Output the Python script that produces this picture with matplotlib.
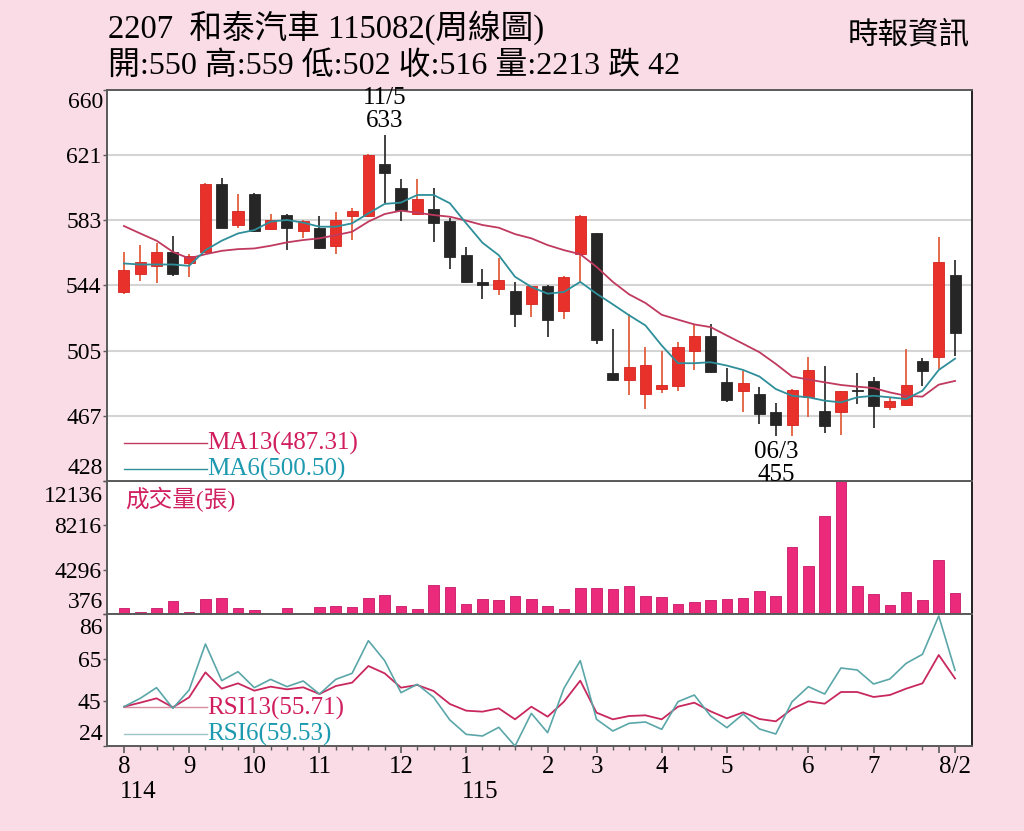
import matplotlib
matplotlib.use('Agg')
import matplotlib.pyplot as plt
import matplotlib.transforms as mtransforms
import numpy as np

# ---------------- data (weekly candles, 52 weeks) ----------------
opens = [540.0, 550.9, 555.3, 563.8, 556.9, 563.8, 604.1, 579.7, 598.1, 577.1,
         585.6, 576.1, 578.1, 567.2, 585.0, 585.0, 616.0, 601.9, 586.2, 589.0,
         582.1, 561.8, 545.8, 542.0, 540.6, 532.7, 543.6, 528.7, 562.8, 574.7,
         492.0, 488.1, 479.5, 482.5, 484.5, 505.3, 514.2, 486.5, 481.5, 479.5,
         468.7, 461.3, 477.6, 469.6, 468.7, 481.1, 487.1, 471.6, 473.2, 499.0,
         501.4, 550.0]
highs = [563.8, 567.8, 569.2, 573.2, 562.8, 604.5, 607.5, 598.1, 598.5, 586.0,
         586.0, 582.7, 585.0, 587.6, 589.6, 621.9, 633.0, 607.1, 607.1, 601.9,
         583.7, 566.8, 553.9, 559.9, 546.0, 543.8, 544.0, 549.4, 585.4, 575.1,
         518.2, 527.1, 507.7, 504.9, 510.3, 520.8, 521.2, 495.0, 493.0, 483.9,
         474.0, 482.3, 501.4, 496.0, 481.5, 492.0, 489.5, 477.6, 506.3, 501.0,
         572.8, 559.0]
lows = [539.0, 546.6, 545.6, 549.4, 548.6, 563.2, 577.7, 577.7, 575.7, 576.7,
        564.8, 571.8, 565.4, 562.8, 570.8, 584.6, 593.0, 582.1, 585.6, 569.8,
        553.9, 545.4, 536.1, 538.5, 519.2, 525.2, 513.3, 524.2, 546.0, 509.3,
        487.5, 479.2, 470.6, 479.9, 481.1, 493.8, 491.9, 474.6, 469.0, 461.7,
        454.8, 454.8, 465.7, 456.2, 455.0, 473.6, 459.7, 470.0, 472.6, 484.5,
        494.4, 502.0]
closes = [552.9, 557.5, 563.8, 550.9, 561.4, 604.1, 578.1, 588.0, 576.1, 582.7,
          578.1, 581.9, 565.8, 582.7, 588.0, 621.3, 610.5, 588.6, 595.0, 581.1,
          560.8, 545.8, 544.0, 547.4, 526.8, 543.6, 523.6, 548.6, 585.0, 511.7,
          487.9, 495.4, 496.8, 484.9, 507.3, 514.2, 492.8, 476.0, 486.1, 467.7,
          461.3, 481.9, 494.0, 460.3, 481.1, 481.1, 472.2, 475.2, 485.1, 493.0,
          557.5, 516.0]
ma13 = [579.1, 574.7, 570.4, 563.8, 559.9, 562.4, 564.4, 565.4, 565.8, 567.4,
        569.4, 570.8, 571.8, 573.7, 575.7, 581.7, 586.2, 588.2, 587.0, 585.6,
        584.6, 582.3, 579.7, 578.1, 574.3, 571.8, 567.8, 564.8, 562.4, 554.9,
        546.0, 538.6, 533.5, 526.5, 523.6, 520.8, 519.2, 514.2, 509.3, 504.3,
        497.4, 489.9, 488.1, 486.5, 484.9, 483.9, 483.1, 480.5, 478.5, 478.0,
        485.1, 487.31]
ma6 = [556.9, 556.3, 556.3, 556.3, 555.5, 564.8, 570.4, 574.7, 576.7, 581.7,
       582.7, 581.1, 578.7, 578.7, 580.7, 586.6, 592.2, 593.0, 597.5, 597.5,
       592.6, 580.7, 569.2, 561.8, 549.0, 543.0, 539.0, 540.0, 546.0, 539.0,
       532.7, 526.2, 520.2, 508.3, 497.8, 497.8, 498.4, 496.4, 493.8, 489.9,
       482.5, 478.5, 477.6, 475.6, 474.6, 477.6, 478.5, 477.6, 476.6, 481.5,
       493.8, 500.50]
volume = [884, 527, 911, 1561, 527, 1686, 1775, 884, 732, 376,
          937, 438, 973, 1062, 1026, 1802, 2069, 1062, 848, 2898,
          2782, 1267, 1686, 1650, 1953, 1730, 1062, 822, 2719, 2666,
          2577, 2844, 1953, 1917, 1294, 1445, 1597, 1713, 1802, 2425,
          1980, 6283, 4590, 9045, 12136, 2844, 2185, 1151, 2309, 1597,
          5125, 2213]
rsi13 = [42.47, 44.35, 46.39, 42.16, 46.86, 58.60, 50.93, 53.43, 49.99, 51.87,
         50.62, 51.56, 48.42, 52.18, 53.75, 61.58, 58.13, 51.40, 52.65, 49.83,
         43.73, 40.60, 40.13, 41.69, 36.53, 42.47, 37.78, 44.82, 54.69, 39.66,
         36.53, 38.09, 38.41, 36.53, 42.47, 44.35, 40.28, 37.00, 39.81, 36.68,
         35.59, 41.38, 44.98, 43.88, 49.36, 49.36, 47.02, 47.95, 50.93, 53.43,
         66.74, 55.71]
rsi6 = [42.47, 46.39, 51.40, 41.69, 50.30, 71.91, 54.69, 58.91, 51.40, 55.31,
        51.87, 54.53, 48.42, 55.31, 58.13, 73.48, 64.08, 49.05, 52.97, 46.86,
        36.21, 29.48, 28.70, 32.77, 24.00, 39.34, 30.26, 51.09, 64.08, 36.53,
        31.05, 34.65, 35.27, 31.83, 44.82, 47.95, 38.09, 32.61, 39.03, 31.99,
        29.64, 44.82, 51.87, 48.42, 60.64, 59.70, 53.12, 55.47, 62.83, 67.06,
        85.06, 59.53]

month_idx = [0, 4, 8, 12, 17, 21, 26, 29, 33, 37, 42, 46, 50, 51]
month_lbl = ['8', '9', '10', '11', '12', '1', '2', '3', '4', '5', '6', '7', '', '8/2']
year_lbl = [(0, '114'), (21, '115')]

price_ticks = [428, 466.67, 505.33, 544, 582.67, 621.33, 660]
price_lbls = ['428', '467', '505', '544', '583', '621', '660']
vol_ticks = [376, 4296, 8216, 12136]
vol_lbls = ['376', '4296', '8216', '12136']
rsi_ticks = [24, 45, 65, 86]
rsi_lbls = ['24', '45', '65', '86']

title1 = '2207  和泰汽車 115082(周線圖)'
title2 = '開:550 高:559 低:502 收:516 量:2213 跌 42'
source = '時報資訊'

# ---------------- style ----------------
SERIF = ['Liberation Serif', 'Noto Sans CJK TC', 'DejaVu Sans']
plt.rcParams['font.family'] = SERIF
BG = '#FADCE6'
RED = '#E8312B'
BLK = '#262626'
MA13C = '#C0395E'
MA6C = '#2E8F9A'
R13C = '#C8285E'
R6C = '#5AA6A8'
VOLC = '#EC2A7C'
SPINE = '#5a5a5a'
YFS = 17

fig = plt.figure(figsize=(10.24, 8.31), dpi=100)
fig.patch.set_facecolor(BG)

def fy(px):
    return 1 - px / 831.0

L = 107 / 1024.0
W = 864.5 / 1024.0
ax_p = fig.add_axes([L, fy(481), W, fy(89.5) - fy(481)])
ax_v = fig.add_axes([L, fy(614), W, fy(481) - fy(614)])
ax_r = fig.add_axes([L, fy(746), W, fy(614) - fy(746)])
ax_p.set_zorder(3)

x = np.arange(len(closes))
XL = (-1.04, 52.01)

for ax in (ax_p, ax_v, ax_r):
    ax.set_xlim(*XL)
    ax.set_facecolor('white')
    for s in ax.spines.values():
        s.set_color(SPINE)
        s.set_linewidth(1.4)
    ax.spines['right'].set_color('#222222')
    ax.tick_params(axis='y', direction='out', length=3, width=1, color=SPINE,
                   labelsize=YFS, pad=1)


def set_yaxis(ax, lo_v, hi_v, ticks, labels, top_off, bot_off):
    """Ticks at the true values; the two end labels are set inside the panel."""
    ax.set_ylim(lo_v, hi_v)
    ax.set_yticks(ticks)
    ax.set_yticklabels([''] + labels[1:-1] + [''])
    tr_top = ax.transAxes + mtransforms.ScaledTranslation(-4 / 100, -top_off / 100,
                                                         fig.dpi_scale_trans)
    tr_bot = ax.transAxes + mtransforms.ScaledTranslation(-4 / 100, bot_off / 100,
                                                         fig.dpi_scale_trans)
    ax.text(0, 1, labels[-1], transform=tr_top, ha='right', va='center',
            fontsize=YFS)
    ax.text(0, 0, labels[0], transform=tr_bot, ha='right', va='center',
            fontsize=YFS)


# ---------------- price panel ----------------
o = np.array(opens); c = np.array(closes); h = np.array(highs); lo = np.array(lows)
up = c > o
wick_cols = np.where(up, '#E2603C', '#333333')
ax_p.vlines(x, lo, h, colors=wick_cols, linewidth=1.3, zorder=2)
body_h = np.maximum(np.abs(c - o), 0.9)
body_b = np.minimum(o, c)
ax_p.bar(x[up], body_h[up], bottom=body_b[up], width=0.68, color=RED,
         edgecolor='#D42420', linewidth=0.6, zorder=3)
ax_p.bar(x[~up], body_h[~up], bottom=body_b[~up], width=0.68, color=BLK,
         edgecolor=BLK, linewidth=0.6, zorder=3)
ax_p.plot(x, ma13, color=MA13C, lw=1.3, zorder=4)
ax_p.plot(x, ma6, color=MA6C, lw=1.3, zorder=4)

set_yaxis(ax_p, 428, 660, price_ticks, price_lbls, 13, 12)
for yv in price_ticks[1:-1]:
    ax_p.axhline(yv, color='#d4d4d4', lw=1.5, zorder=0)
ax_p.tick_params(axis='x', length=0, labelbottom=False)

# legend
ax_p.plot([0, 5.1], [450.8, 450.8], color=MA13C, lw=1.0, zorder=4)
ax_p.plot([0, 5.1], [435.3, 435.3], color=MA6C, lw=1.0, zorder=4)
ax_p.text(5.1, 450.3, 'MA13(487.31)', color='#D01E5E', fontsize=18,
          va='center', ha='left', zorder=5)
ax_p.text(5.1, 435.0, 'MA6(500.50)', color='#1D9AB0', fontsize=18,
          va='center', ha='left', zorder=5)

# annotations
ihi = int(np.argmax(h)); ilo = int(np.argmin(lo))
ax_p.annotate('11/5\n%d' % round(h[ihi]), xy=(ihi, h[ihi]), xytext=(0, 3),
              textcoords='offset pixels', ha='center', va='bottom',
              fontsize=18, linespacing=1.05, annotation_clip=False, zorder=6)
ax_p.annotate('06/3\n%d' % 455, xy=(ilo, lo[ilo]), xytext=(0, -5),
              textcoords='offset pixels', ha='center', va='top',
              fontsize=18, linespacing=1.05, annotation_clip=False, zorder=6)

# ---------------- volume panel ----------------
ax_v.bar(x, volume, width=0.65, color=VOLC, edgecolor='#C8186A', linewidth=0.6,
         zorder=2)
set_yaxis(ax_v, 376, 12136, vol_ticks, vol_lbls, 15, 12)
ax_v.tick_params(axis='x', length=0, labelbottom=False)
ax_v.text(0.021, 0.86, '成交量(張)', transform=ax_v.transAxes, color='#D0205F',
          fontsize=17, va='center', ha='left')

# ---------------- RSI panel ----------------
ax_r.plot(x, rsi13, color=R13C, lw=1.3, zorder=3)
ax_r.plot(x, rsi6, color=R6C, lw=1.2, zorder=3)
set_yaxis(ax_r, 24, 86, rsi_ticks, rsi_lbls, 14, 11)
ax_r.plot([0, 5.1], [42.3, 42.3], color='#D88CA0', lw=1.0, zorder=2)
ax_r.plot([0, 5.1], [29.6, 29.6], color='#9CC4C4', lw=1.0, zorder=2)
ax_r.text(5.1, 41.8, 'RSI13(55.71)', color='#D01E5E', fontsize=18,
          va='center', ha='left', zorder=5)
ax_r.text(5.1, 29.6, 'RSI6(59.53)', color='#1D9AB0', fontsize=18,
          va='center', ha='left', zorder=5)

ax_r.set_xticks(month_idx)
ax_r.set_xticklabels(month_lbl)
ax_r.set_xticks(x, minor=True)
ax_r.tick_params(axis='x', which='major', direction='out', length=5, width=1.2,
                 color=SPINE, labelsize=18, pad=2)
ax_r.tick_params(axis='x', which='minor', direction='out', length=3, width=1,
                 color=SPINE)
trans = mtransforms.blended_transform_factory(ax_r.transData, ax_r.transAxes)
for xi, yl in year_lbl:
    ax_r.text(xi - 0.27, -0.35, yl, transform=trans, ha='left', va='center',
              fontsize=18)

# ---------------- header ----------------
fig.text(108 / 1024, fy(28), title1, fontsize=23.5, ha='left', va='center')
fig.text(108 / 1024, fy(66), title2, fontsize=23, ha='left', va='center')
fig.text(970 / 1024, fy(36), source, fontsize=22, ha='right', va='center',
         family=['Noto Sans CJK TC', 'DejaVu Sans'])

fig.savefig('out.png', dpi=100, facecolor=BG)
